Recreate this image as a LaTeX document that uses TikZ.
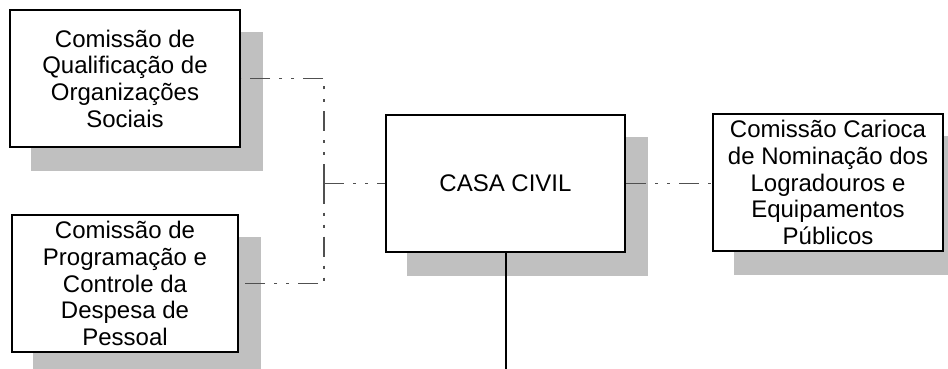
\documentclass[tikz,border=0pt]{standalone}
\usepackage{fontspec}
\setmainfont{Liberation Sans}
\usetikzlibrary{backgrounds}
\definecolor{shadowgray}{HTML}{C0C0C0}
\definecolor{linkgray}{HTML}{505050}
\tikzset{
  orgbox/.style={draw=black, line width=2pt, fill=white, rectangle, inner sep=0pt,
    align=center, font=\fontsize{24}{26.7}\selectfont},
  dashlink/.style={draw=linkgray, line width=1.2pt,
    dash pattern=on 20pt off 9pt on 3pt off 9pt on 3pt off 9pt},
  solidlink/.style={draw=black, line width=2pt},
}
\begin{document}
\begin{tikzpicture}[x=1pt,y=-1pt]
\useasboundingbox (0,0) rectangle (948,369);
% boxes
\node[orgbox, minimum width=230pt, minimum height=137pt] (qual) at (125,78.5)
  {Comissão de\\Qualificação de\\Organizações\\Sociais};
\node[orgbox, minimum width=226pt, minimum height=137pt] (prog) at (125,283.5)
  {Comissão de\\Programação e\\Controle da\\Despesa de\\Pessoal};
\node[orgbox, minimum width=239pt, minimum height=137pt] (casa) at (505.5,183.5)
  {CASA CIVIL};
\node[orgbox, minimum width=230pt, minimum height=137pt] (nomi) at (828,182.5)
  {Comissão Carioca\\de Nominação dos\\Logradouros e\\Equipamentos\\Públicos};
% shadows
\begin{scope}[on background layer]
  \foreach \n in {qual,prog,casa,nomi}{
    \fill[shadowgray] ([shift={(22pt,-23pt)}]\n.south west) rectangle ([shift={(22pt,-23pt)}]\n.north east);
  }
\end{scope}
% connectors
\coordinate (junction) at (324,183.5);
\coordinate (bottomend) at (505.5,369);
\draw[dashlink] (junction) |- (qual.east);
\draw[dashlink] (junction) |- (prog.east);
\draw[dashlink] (junction) -- (casa.west);
\draw[dashlink] (casa.east) -- (nomi.west |- casa.east);
\draw[solidlink] (casa.south) -- (bottomend);
\end{tikzpicture}
\end{document}
